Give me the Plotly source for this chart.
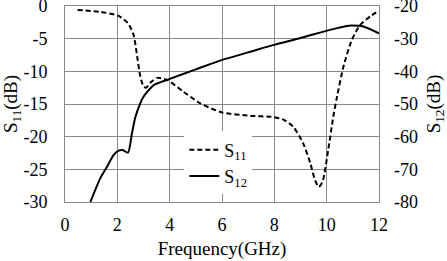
import plotly.graph_objects as go

# S11 (dashed, left axis)
freq_s11 = [0.48, 1.35, 2.05, 2.4, 2.62, 2.76, 2.88, 3.0, 3.1, 3.3, 3.52, 3.9, 4.52, 5.17, 6.0, 7.08, 7.96, 8.35, 8.73, 9.1, 9.37, 9.55, 9.7, 9.85, 10.06, 10.25, 10.39, 10.64, 10.96, 11.28, 11.66, 12.0]
s11_db = [-0.6, -0.9, -1.5, -2.6, -4.4, -7.8, -10.8, -12.3, -12.5, -11.6, -11.0, -11.3, -13.1, -14.9, -16.3, -16.8, -17.0, -17.4, -18.5, -21.0, -24.0, -26.6, -27.7, -26.8, -22.0, -17.0, -14.0, -9.3, -5.2, -2.9, -1.6, -0.7]

# S12 (solid, right axis)
freq_s12 = [0.97, 1.35, 1.6, 1.86, 2.05, 2.2, 2.41, 2.56, 2.69, 2.88, 3.0, 3.14, 3.39, 3.9, 5.0, 6.0, 7.0, 7.97, 9.0, 10.13, 10.77, 10.96, 11.4, 12.0]
s12_db = [-80, -72.7, -69.3, -65.6, -64.3, -64.1, -64.9, -58.9, -54.0, -49.7, -47.8, -46.3, -44.2, -42.6, -39.4, -36.5, -34.2, -31.9, -29.8, -27.3, -26.1, -26.0, -26.3, -28.4]

x_ticks = [0, 2, 4, 6, 8, 10, 12]
y1_ticks = [0, -5, -10, -15, -20, -25, -30]
y2_ticks = [-20, -30, -40, -50, -60, -70, -80]

FONT = "Liberation Serif, Times New Roman, serif"
GRID = "#8a8a8a"

fig = go.Figure()
fig.add_trace(go.Scatter(
    x=freq_s11, y=s11_db, mode="lines", name="S<sub>11</sub>",
    line=dict(color="black", width=2, dash="5px,3px", shape="spline", smoothing=0.6),
    yaxis="y"))
fig.add_trace(go.Scatter(
    x=freq_s12, y=s12_db, mode="lines", name="S<sub>12</sub>",
    line=dict(color="black", width=2, shape="spline", smoothing=0.6),
    yaxis="y2"))

fig.update_layout(
    width=447, height=261,
    margin=dict(l=65, r=68, t=6, b=59, autoexpand=False),
    paper_bgcolor="white", plot_bgcolor="white",
    font=dict(family=FONT, size=18, color="black"),
    showlegend=True,
    legend=dict(x=0.38, y=0.36, xanchor="left", yanchor="top",
                bgcolor="white", borderwidth=0,
                font=dict(family=FONT, size=18, color="black"),
                tracegroupgap=0, itemwidth=30),
    xaxis=dict(range=[0, 12], tickvals=x_ticks, ticktext=[str(v) for v in x_ticks],
               tickfont=dict(family=FONT, size=18),
               showgrid=True, gridcolor=GRID, gridwidth=1,
               showline=True, linecolor=GRID, linewidth=1, mirror=True,
               zeroline=False, ticks="", ticklabelstandoff=6, automargin=False,
               ticklabeloverflow="allow",
               title=dict(text="Frequency(GHz)", standoff=8,
                          font=dict(family=FONT, size=19))),
    yaxis=dict(range=[-30, 0], tickvals=y1_ticks, ticktext=[str(v) for v in y1_ticks],
               tickfont=dict(family=FONT, size=18),
               showgrid=True, gridcolor=GRID, gridwidth=1,
               showline=True, linecolor=GRID, linewidth=1, mirror=True,
               zeroline=False, ticks="", ticklabelstandoff=13, automargin=False,
               ticklabeloverflow="allow",
               title=dict(text="S<sub>11</sub>(dB)", standoff=6,
                          font=dict(family=FONT, size=19))),
    yaxis2=dict(range=[-80, -20], tickvals=y2_ticks, ticktext=[str(v) for v in y2_ticks],
                tickfont=dict(family=FONT, size=18),
                overlaying="y", side="right", showgrid=False,
                zeroline=False, ticks="", ticklabelstandoff=14, automargin=False,
                ticklabeloverflow="allow",
                title=dict(text="S<sub>12</sub>(dB)", standoff=9,
                           font=dict(family=FONT, size=19))),
)

fig.write_html("out.html", config={"displayModeBar": False},
               post_script="document.body.style.margin='0';document.body.style.padding='0';")
